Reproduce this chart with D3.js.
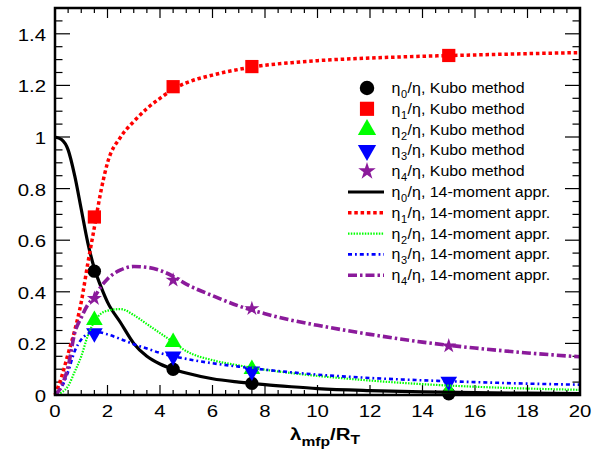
<!DOCTYPE html>
<html>
<head>
<meta charset="utf-8">
<script src="https://cdn.jsdelivr.net/npm/d3@7"></script>
<style>
  body { margin: 0; background: #fff; }
  text { font-family: "Liberation Sans", Arial, Helvetica, sans-serif; }
</style>
</head>
<body>
<div id="chart"></div>
<script>
var w = 608;
var h = 455;
var margin = {left: 55, right: 28, top: 8, bottom: 60};

// Kubo method points
var kuboX = [1.5, 4.5, 7.5, 15];
var kubo0 = [0.48, 0.10, 0.045, 0.005];
var kubo1 = [0.69, 1.195, 1.273, 1.316];
var kubo2 = [0.29, 0.205, 0.10, 0.016];
var kubo3 = [0.24, 0.15, 0.092, 0.052];
var kubo4 = [0.374, 0.445, 0.335, 0.19];

// 14-moment curves
var curveX = [0, 0.25, 0.5, 0.75, 1, 1.25, 1.5, 1.75, 2, 2.5, 3, 3.5, 4, 4.5, 5, 6, 7, 8, 9, 10, 12, 14, 16, 18, 20];
var mom0 = [1.0, 0.99, 0.95, 0.85, 0.72, 0.59, 0.49, 0.42, 0.36, 0.28, 0.20, 0.15, 0.12, 0.10, 0.085, 0.063, 0.05, 0.04, 0.032, 0.025, 0.017, 0.012, 0.009, 0.007, 0.005];
var mom1 = [0, 0.07, 0.16, 0.25, 0.36, 0.51, 0.65, 0.79, 0.90, 1.0, 1.06, 1.11, 1.15, 1.185, 1.21, 1.24, 1.262, 1.278, 1.288, 1.296, 1.306, 1.313, 1.318, 1.323, 1.327];
var mom2 = [0, 0.01, 0.035, 0.09, 0.15, 0.23, 0.285, 0.315, 0.327, 0.333, 0.31, 0.275, 0.24, 0.205, 0.17, 0.135, 0.115, 0.098, 0.085, 0.074, 0.056, 0.042, 0.032, 0.025, 0.02];
var mom3 = [0, 0.03, 0.09, 0.17, 0.215, 0.237, 0.245, 0.242, 0.235, 0.217, 0.197, 0.18, 0.163, 0.15, 0.14, 0.123, 0.11, 0.098, 0.088, 0.079, 0.066, 0.057, 0.05, 0.044, 0.04];
var mom4 = [0, 0.035, 0.11, 0.24, 0.30, 0.35, 0.38, 0.42, 0.45, 0.485, 0.498, 0.495, 0.483, 0.46, 0.43, 0.385, 0.345, 0.315, 0.29, 0.27, 0.235, 0.205, 0.182, 0.163, 0.148];

var xTicks = [0, 2, 4, 6, 8, 10, 12, 14, 16, 18, 20];
var yTicks = [0, 0.2, 0.4, 0.6, 0.8, 1, 1.2, 1.4];

var svg = d3.select("#chart").append("svg")
    .attr("width", w)
    .attr("height", h);

var xScale = d3.scaleLinear().domain([0, 20]).range([margin.left, w - margin.right]);
var yScale = d3.scaleLinear().domain([0, 1.5]).range([h - margin.bottom, margin.top]);

var x0 = xScale(0), x1 = xScale(20), y0 = yScale(0), y1 = yScale(1.5);

// the original's lettering is a bit wide, so stretch text sideways
function at(x, y, sx) {
    return "translate(" + x + "," + y + ") scale(" + sx + ",1)";
}

// ticks, inward on all four sides
var xMinor = d3.range(0, 20.01, 0.5);
var yMinor = d3.range(0, 1.501, 0.05);
var tg = svg.append("g").attr("stroke", "#000").attr("stroke-width", 1.2);
xMinor.forEach(function(v) {
    var major = Math.abs(v / 2 - Math.round(v / 2)) < 1e-6;
    var len = major ? 10 : 5;
    tg.append("line").attr("x1", xScale(v)).attr("x2", xScale(v)).attr("y1", y0).attr("y2", y0 - len);
    tg.append("line").attr("x1", xScale(v)).attr("x2", xScale(v)).attr("y1", y1).attr("y2", y1 + len);
});
yMinor.forEach(function(v) {
    var major = Math.abs(v / 0.2 - Math.round(v / 0.2)) < 1e-6;
    var len = major ? 15 : 7.5;
    tg.append("line").attr("y1", yScale(v)).attr("y2", yScale(v)).attr("x1", x0).attr("x2", x0 + len);
    tg.append("line").attr("y1", yScale(v)).attr("y2", yScale(v)).attr("x1", x1).attr("x2", x1 - len);
});

// tick labels
svg.selectAll(".xlab").data(xTicks).enter().append("text")
    .attr("transform", function(d) { return at(xScale(d), y0 + 22, 1.2); })
    .attr("text-anchor", "middle")
    .style("font-size", "17px")
    .text(function(d) { return d; });
svg.selectAll(".ylab").data(yTicks).enter().append("text")
    .attr("transform", function(d) { return at(x0 - 9, yScale(d) + 7, 1.2); })
    .attr("text-anchor", "end")
    .style("font-size", "17px")
    .text(function(d) { return d; });

// axis title
var title = svg.append("text")
    .attr("transform", at(325, 440, 1.2))
    .attr("text-anchor", "middle")
    .style("font-size", "17px")
    .style("font-weight", "bold");
title.append("tspan").text("λ");
title.append("tspan").attr("dy", 6).style("font-size", "13px").text("mfp");
title.append("tspan").attr("dy", -6).text("/R");
title.append("tspan").attr("dy", 4).style("font-size", "13px").text("T");

// curves
var series = [
    {vals: mom0, color: "#000000", width: 3.2, dash: null},
    {vals: mom1, color: "#ff0000", width: 3.5, dash: "3.5,2.8"},
    {vals: mom2, color: "#00ff00", width: 2.2, dash: "1.5,1.3"},
    {vals: mom3, color: "#0000ff", width: 2.6, dash: "4,3,1.8,3"},
    {vals: mom4, color: "#8b1a9b", width: 3.6, dash: "9,3,2.5,3"}
];
var line = d3.line()
    .x(function(d) { return xScale(d[0]); })
    .y(function(d) { return yScale(d[1]); })
    .curve(d3.curveMonotoneX);

var kubo = [
    {vals: kubo0, color: "#000000", shape: d3.symbolCircle, size: 140, rot: 0},
    {vals: kubo1, color: "#ff0000", shape: d3.symbolSquare, size: 175, rot: 0},
    {vals: kubo2, color: "#00ff00", shape: d3.symbolTriangle, size: 120, rot: 0},
    {vals: kubo3, color: "#0000ff", shape: d3.symbolTriangle, size: 120, rot: 180},
    {vals: kubo4, color: "#8b1a9b", shape: d3.symbolStar, size: 70, rot: 0}
];

// markers first, lines on top like the original
kubo.forEach(function(k) {
    svg.selectAll(null).data(kuboX).enter().append("path")
        .attr("d", d3.symbol().type(k.shape).size(k.size))
        .attr("transform", function(d, i) {
            return "translate(" + xScale(d) + "," + yScale(k.vals[i]) + ") rotate(" + k.rot + ")";
        })
        .attr("fill", k.color);
});

series.forEach(function(s) {
    svg.append("path")
        .datum(curveX.map(function(x, i) { return [x, s.vals[i]]; }))
        .attr("d", line)
        .attr("fill", "none")
        .attr("stroke", s.color)
        .attr("stroke-width", s.width)
        .attr("stroke-dasharray", s.dash);
});

// frame
svg.append("rect")
    .attr("x", x0).attr("y", y1)
    .attr("width", x1 - x0).attr("height", y0 - y1)
    .attr("fill", "none")
    .attr("stroke", "#000")
    .attr("stroke-width", 2.5);

// legend
var legX = 367, legTextX = 391.5, legY = 88, legStep = 20.8;
var leg = svg.append("g");
kubo.forEach(function(k, i) {
    var y = legY + i * legStep;
    leg.append("path")
        .attr("d", d3.symbol().type(k.shape).size(k.size + 25))
        .attr("transform", "translate(" + legX + "," + y + ") rotate(" + k.rot + ")")
        .attr("fill", k.color);
    addLabel(y, i, ", Kubo method");
});
series.forEach(function(s, i) {
    var y = legY + (i + 5) * legStep;
    leg.append("line")
        .attr("x1", 348).attr("x2", 384)
        .attr("y1", y).attr("y2", y)
        .attr("stroke", s.color)
        .attr("stroke-width", s.width)
        .attr("stroke-dasharray", s.dash);
    addLabel(y, i, ", 14-moment appr.");
});

function addLabel(y, i, rest) {
    var t = leg.append("text")
        .attr("transform", at(legTextX, y + 5, 1.1))
        .style("font-size", "14.5px");
    t.append("tspan").text("η");
    t.append("tspan").attr("dy", 5).attr("dx", 0.5).style("font-size", "10px").text(i);
    t.append("tspan").attr("dy", -5).attr("dx", 0.5).text("/η" + rest);
}
</script>
</body>
</html>
